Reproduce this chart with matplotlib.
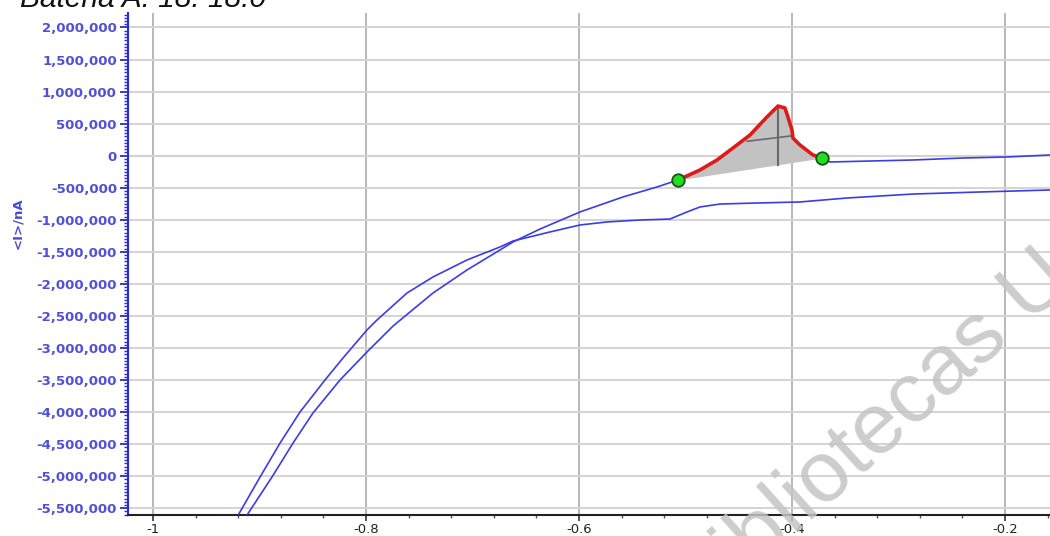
import numpy as np
import matplotlib
matplotlib.use('Agg')
import matplotlib.pyplot as plt
from matplotlib.ticker import MultipleLocator, FuncFormatter

# curve A: lower branch at the right end (step near -0.5 V)
xa = [-0.925, -0.8995, -0.8807, -0.8620, -0.8385, -0.8216, -0.7991, -0.7897, -0.7615,
      -0.7371, -0.7052, -0.6742, -0.6620, -0.6273, -0.5991, -0.5737, -0.5427, -0.5146,
      -0.4986, -0.4864, -0.4676, -0.4329, -0.3925, -0.3484, -0.2864, -0.2235, -0.1577]
ya = [-5750000, -5013000, -4482000, -3999000, -3499000, -3156000, -2719000, -2563000, -2142000,
      -1892000, -1627000, -1424000, -1331000, -1190000, -1081000, -1034000, -1003000, -988000,
      -878000, -800000, -754000, -738000, -722000, -660000, -598000, -566000, -535000]

# curve B: upper branch, up to the first green point
xb = [-0.919, -0.9117, -0.8883, -0.8685, -0.8498, -0.8244, -0.7991, -0.7746, -0.7371,
      -0.7052, -0.6742, -0.6620, -0.6366, -0.5991, -0.5587, -0.5268, -0.5070]
yb = [-5790000, -5605000, -5013000, -4482000, -4014000, -3499000, -3062000, -2657000, -2142000,
      -1783000, -1471000, -1346000, -1144000, -878000, -644000, -488000, -379000]

# peak (red) between the two green points
xp = [-0.5070, -0.4864, -0.4704, -0.4554, -0.4394, -0.4235, -0.4131, -0.4066, -0.4038,
      -0.4000, -0.3991, -0.3925, -0.3803, -0.3718]
yp = [-379000, -223000, -67000, 120000, 323000, 604000, 775000, 744000, 604000,
      401000, 276000, 167000, 11000, -36000]

# curve B after the second green point
xc = [-0.3718, -0.3643, -0.2864, -0.2394, -0.1981, -0.1577]
yc = [-36000, -98000, -67000, -36000, -20000, 11000]

# half width marker
hw_x = [-0.442, -0.400]
hw_y = [225000, 310000]

title = 'Bateria A: 18: 18:0'

fig = plt.figure(figsize=(10.5, 5.36), dpi=100)
ax = fig.add_axes([128 / 1050, 21 / 536, 922 / 1050, 502 / 536])

ax.set_xlim(-1.0235, -0.1577)
ax.set_ylim(-5605000, 2226000)

ax.xaxis.set_major_locator(MultipleLocator(0.2))
ax.xaxis.set_minor_locator(MultipleLocator(0.04))
ax.yaxis.set_major_locator(MultipleLocator(500000))
ax.yaxis.set_minor_locator(MultipleLocator(50000))
ax.yaxis.set_major_formatter(FuncFormatter(lambda v, p: '{:,.0f}'.format(v)))
ax.xaxis.set_major_formatter(FuncFormatter(lambda v, p: '%g' % round(v, 2)))

ax.grid(axis='y', which='major', color='#d4d4d4', lw=1.4, zorder=0)
ax.grid(axis='x', which='major', color='#b8b8b8', lw=1.4, zorder=0)
ax.axhline(0, color='#f5c98f', lw=1.5, zorder=1)

ax.plot(xa, ya, color='#3c3ce6', lw=1.2, zorder=3)
ax.plot(xb, yb, color='#3c3ce6', lw=1.2, zorder=3)
ax.plot(xc, yc, color='#3c3ce6', lw=1.2, zorder=3)

# baseline under the peak and shaded area
base = np.interp(xp, [xp[0], xp[-1]], [yp[0], yp[-1]])
ax.fill_between(xp, base, yp, color='#c2c2c2', lw=0, zorder=2)
ipk = int(np.argmax(yp))
ax.plot([xp[ipk], xp[ipk]], [yp[ipk], base[ipk]], color='#6a6a6a', lw=1.5, zorder=4)
ax.plot(hw_x, hw_y, color='#6a6a6a', lw=1.2, zorder=4)
ax.plot(xp, yp, color='#e01a1a', lw=2.6, zorder=5)
ax.plot([xp[0], xp[-1]], [yp[0], yp[-1]], 'o', ms=9, mfc='#22dd22', mec='#145514',
        mew=1.3, zorder=6)

for s in ['top', 'right']:
    ax.spines[s].set_visible(False)
ax.spines['left'].set_color('#2a2ad8')
ax.spines['left'].set_linewidth(1.5)
ax.spines['bottom'].set_color('#222222')
ax.spines['bottom'].set_linewidth(1.5)

ax.tick_params(axis='y', which='major', direction='out', length=6, width=1.3,
               color='#2a2ad8', labelcolor='#5050d8', labelsize=9.5, pad=2)
ax.tick_params(axis='y', which='minor', direction='out', length=3, width=1,
               color='#2a2ad8')
ax.tick_params(axis='x', which='major', direction='out', length=4, width=1.2,
               color='#333333', labelcolor='#222222', labelsize=9.5, pad=1.5)
ax.tick_params(axis='x', which='minor', direction='out', length=2.5, width=1,
               color='#555555')
for lb in ax.get_yticklabels():
    lb.set_fontweight('bold')

fig.text(18 / 1050, 1 - 223 / 536, '<I>/nA', rotation=90, ha='center', va='center',
         color='#4a4ad8', fontsize=9.5, fontweight='bold')

fig.text(20 / 1050, 1 - 7 / 536, title, ha='left', va='baseline', fontsize=21.5,
         style='italic', family='Liberation Sans', color='#111111')

# watermark
fig.text(873 / 1050, 1 - 435 / 536, 'Bibliotecas U', rotation=42, rotation_mode='anchor',
         ha='center', va='center', fontsize=62, family='Liberation Sans',
         color='#c4c4c4', alpha=0.85, zorder=10)

fig.savefig('out.png', dpi=100)
